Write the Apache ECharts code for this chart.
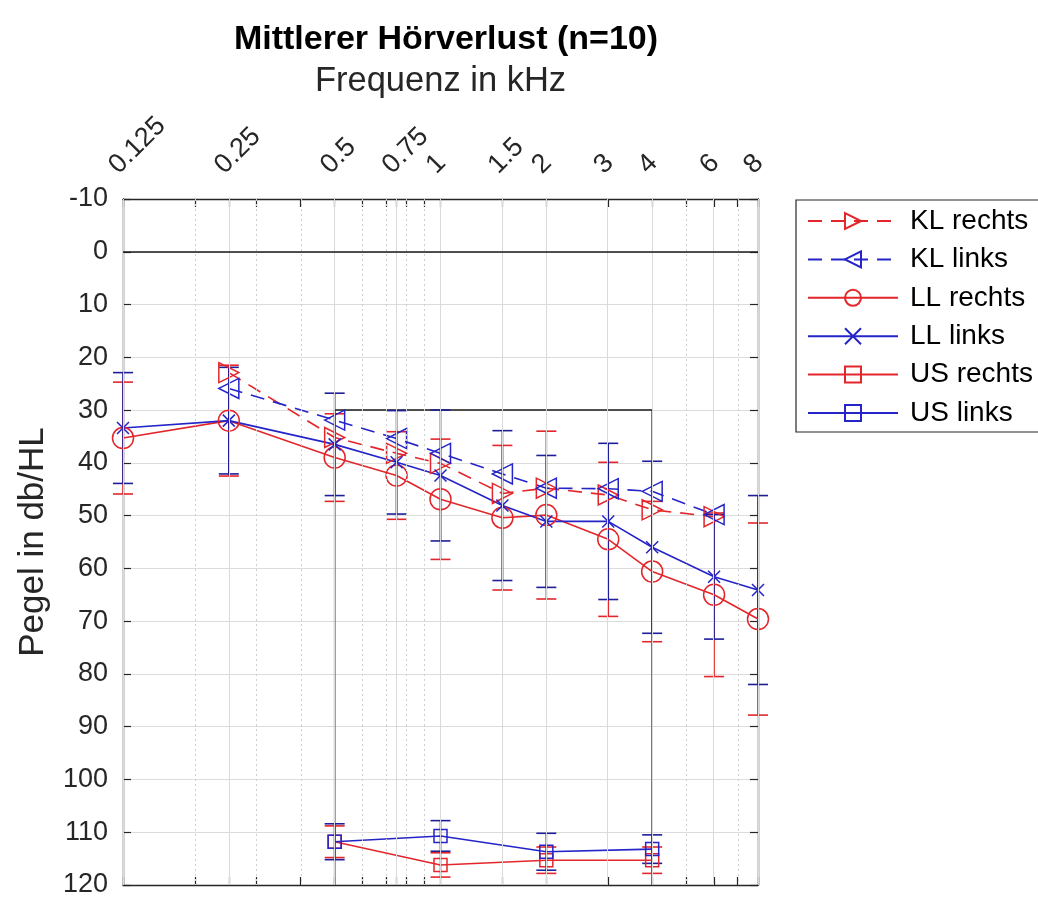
<!DOCTYPE html>
<html>
<head>
<meta charset="utf-8">
<script src="https://cdn.jsdelivr.net/npm/echarts@6/dist/echarts.min.js"></script>
<style>
html, body { margin: 0; padding: 0; background: #ffffff; }
#chart { width: 1038px; height: 900px; }
</style>
</head>
<body>
<div id="chart"></div>
<script>
// Frequency ticks (kHz) shown on the top axis
const tickFreqs = [0.125, 0.25, 0.5, 0.75, 1, 1.5, 2, 3, 4, 6, 8];
const tickLabels = ['0.125', '0.25', '0.5', '0.75', '1', '1.5', '2', '3', '4', '6', '8'];
// Minor logarithmic grid positions (kHz)
const minorFreqs = [0.2, 0.3, 0.4, 0.6, 0.7, 0.8, 0.9, 5, 7];

// Bone conduction (KL)
const klFreqs = [0.25, 0.5, 0.75, 1, 1.5, 2, 3, 4, 6];
const klRechts = [22.9, 35.2, 38.2, 40.1, 45.8, 44.8, 46.1, 48.9, 50.2];
const klLinks = [25.9, 31.9, 35.4, 38.2, 42.1, 44.8, 44.9, 45.4, 49.8];

// Air conduction (LL) with standard deviations
const llFreqs = [0.125, 0.25, 0.5, 0.75, 1, 1.5, 2, 3, 4, 6, 8];
const llRechts = [35.3, 32.0, 39.0, 42.4, 46.9, 50.4, 49.9, 54.5, 60.6, 65.0, 69.6];
const llRechtsSd = [10.6, 10.5, 8.3, 8.3, 11.4, 13.7, 15.9, 14.6, 13.3, 15.5, 18.2];
const llLinks = [33.4, 32.0, 36.5, 39.9, 42.4, 48.1, 51.1, 51.1, 56.0, 61.6, 64.1];
const llLinksSd = [10.5, 10.1, 9.7, 9.8, 12.4, 14.2, 12.5, 14.8, 16.3, 11.8, 17.9];

// Discomfort level (US) with standard deviations
const usFreqs = [0.5, 1, 2, 4];
const usRechts = [111.8, 116.2, 115.3, 115.3];
const usRechtsSd = [3.0, 2.3, 2.5, 2.5];
const usLinks = [111.8, 110.7, 113.7, 113.2];
const usLinksSd = [3.4, 2.9, 3.5, 2.7];

// Outline of the marked frequency/level region
const boxFreqs = [0.5, 0.5, 4, 4];
const boxLevels = [120, 30, 30, 120];

const RED = '#e3262b';
const BLUE = '#2424c8';
const BLUE_ERR = '#1e1e9a';
const AXIS = '#262626';
const FONT = "'Liberation Sans', Arial, Helvetica, sans-serif";
const lg = Math.log2;

function pts(freqs, vals) {
  return freqs.map((f, i) => [lg(f), vals[i]]);
}

function labelFor(v) {
  for (let i = 0; i < tickFreqs.length; i++) {
    if (Math.abs(lg(tickFreqs[i]) - v) < 1e-6) return tickLabels[i];
  }
  return '';
}

function errorBars(name, freqs, mean, sd, color) {
  return {
    type: 'custom',
    name: name,
    xAxisIndex: 0,
    yAxisIndex: 0,
    z: 4,
    silent: true,
    clip: false,
    data: freqs.map((f, i) => [lg(f), mean[i] - sd[i], mean[i] + sd[i]]),
    encode: { x: 0, y: [1, 2] },
    renderItem: function (params, api) {
      const x = api.value(0);
      const lo = api.coord([x, api.value(1)]);
      const hi = api.coord([x, api.value(2)]);
      const w = 10;
      const st = { stroke: color, lineWidth: 1.6 };
      return {
        type: 'group',
        children: [
          { type: 'line', shape: { x1: lo[0], y1: lo[1], x2: hi[0], y2: hi[1] }, style: st },
          { type: 'line', shape: { x1: lo[0] - w, y1: lo[1], x2: lo[0] + w, y2: lo[1] }, style: st },
          { type: 'line', shape: { x1: hi[0] - w, y1: hi[1], x2: hi[0] + w, y2: hi[1] }, style: st }
        ]
      };
    }
  };
}

function lineSeries(name, freqs, vals, color, symbol, size, dashed, rotate) {
  return {
    type: 'line',
    name: name,
    xAxisIndex: 0,
    yAxisIndex: 0,
    z: 4,
    data: pts(freqs, vals),
    symbol: symbol,
    symbolSize: size,
    symbolRotate: rotate || 0,
    showAllSymbol: true,
    clip: false,
    lineStyle: { color: color, width: 1.6, type: dashed ? [14, 9] : 'solid' },
    itemStyle: { color: 'rgba(255,255,255,0)', borderColor: color, borderWidth: 1.5 }
  };
}

const CROSS = 'path://M0 0L10 10M10 0L0 10';

const frameLine = { show: true, onZero: false, lineStyle: { color: AXIS, width: 1.4 } };
const inTicks = { show: true, inside: true, length: 8, lineStyle: { color: AXIS, width: 1.2 } };

const chart = echarts.init(document.getElementById('chart'), null, { renderer: 'canvas' });

const option = {
  animation: false,
  backgroundColor: '#ffffff',
  title: {
    text: 'Mittlerer Hörverlust (n=10)',
    left: 441,
    top: 18,
    textAlign: 'center',
    textStyle: { fontFamily: FONT, fontSize: 34, fontWeight: 'bold', color: '#000000' }
  },
  legend: {
    orient: 'vertical',
    left: 796,
    top: 200,
    itemWidth: 90,
    itemHeight: 20,
    itemGap: 8.4,
    padding: [6, 8, 4, 11],
    borderColor: AXIS,
    borderWidth: 1.2,
    data: ['KL rechts', 'KL links', 'LL rechts', 'LL links', 'US rechts', 'US links'],
    textStyle: { fontFamily: FONT, fontSize: 28, color: '#000000', lineHeight: 30, padding: [0, 0, 0, 7] }
  },
  grid: { left: 123, top: 199, width: 635, height: 686, containLabel: false },
  xAxis: [
    {
      type: 'value',
      position: 'top',
      min: lg(0.125),
      max: lg(8),
      name: 'Frequenz in kHz',
      nameLocation: 'middle',
      nameGap: 100,
      nameTextStyle: { fontFamily: FONT, fontSize: 34.5, color: AXIS },
      axisLine: frameLine,
      axisTick: Object.assign({}, inTicks, { customValues: tickFreqs.concat(minorFreqs).map(lg) }),
      axisLabel: {
        show: true,
        rotate: -45,
        margin: 20,
        verticalAlign: 'bottom',
        customValues: tickFreqs.map(lg),
        formatter: labelFor,
        fontFamily: FONT,
        fontSize: 27,
        color: AXIS
      },
      splitLine: { show: false }
    },
    {
      type: 'value',
      position: 'bottom',
      min: lg(0.125),
      max: lg(8),
      axisLine: frameLine,
      axisTick: Object.assign({}, inTicks, { customValues: tickFreqs.concat(minorFreqs).map(lg) }),
      axisLabel: { show: false },
      splitLine: { show: false }
    }
  ],
  yAxis: [
    {
      type: 'value',
      position: 'left',
      inverse: true,
      min: -10,
      max: 120,
      interval: 10,
      name: 'Pegel in db/HL',
      nameLocation: 'middle',
      nameGap: 72,
      nameTextStyle: { fontFamily: FONT, fontSize: 35, color: AXIS },
      axisLine: frameLine,
      axisTick: inTicks,
      axisLabel: { margin: 15, fontFamily: FONT, fontSize: 27, color: AXIS },
      splitLine: { show: true, lineStyle: { color: '#dcdcdc', width: 1 } }
    },
    {
      type: 'value',
      position: 'right',
      inverse: true,
      min: -10,
      max: 120,
      interval: 10,
      axisLine: frameLine,
      axisTick: inTicks,
      axisLabel: { show: false },
      splitLine: { show: false }
    }
  ],
  series: [
    {
      // vertical frequency grid and the 0 dB reference line
      type: 'line',
      name: 'grid',
      xAxisIndex: 0,
      yAxisIndex: 0,
      z: 1,
      silent: true,
      symbol: 'none',
      data: [[lg(0.125), -10]],
      lineStyle: { opacity: 0 },
      markLine: {
        silent: true,
        symbol: ['none', 'none'],
        label: { show: false },
        animation: false,
        data: tickFreqs.map(f => ({ xAxis: lg(f), lineStyle: { color: '#dadada', width: 1, type: 'solid' } }))
          .concat(minorFreqs.map(f => ({ xAxis: lg(f), lineStyle: { color: '#cfcfcf', width: 1, type: [2, 3] } })))
          .concat([{ yAxis: 0, lineStyle: { color: '#1a1a1a', width: 1.5, type: 'solid' } }])
      }
    },
    {
      type: 'line',
      name: 'Bereich',
      xAxisIndex: 0,
      yAxisIndex: 0,
      z: 2,
      silent: true,
      symbol: 'none',
      data: pts(boxFreqs, boxLevels),
      lineStyle: { color: '#1a1a1a', width: 1.5 }
    },
    lineSeries('KL rechts', klFreqs, klRechts, RED, 'triangle', 20, true, -90),
    lineSeries('KL links', klFreqs, klLinks, BLUE, 'triangle', 20, true, 90),
    lineSeries('LL rechts', llFreqs, llRechts, RED, 'circle', 21, false),
    errorBars('LL rechts Std', llFreqs, llRechts, llRechtsSd, RED),
    lineSeries('LL links', llFreqs, llLinks, BLUE, CROSS, 12, false),
    errorBars('LL links Std', llFreqs, llLinks, llLinksSd, BLUE_ERR),
    lineSeries('US rechts', usFreqs, usRechts, RED, 'rect', 13, false),
    errorBars('US rechts Std', usFreqs, usRechts, usRechtsSd, RED),
    lineSeries('US links', usFreqs, usLinks, BLUE, 'rect', 13, false),
    errorBars('US links Std', usFreqs, usLinks, usLinksSd, BLUE_ERR)
  ]
};

chart.setOption(option);
</script>
</body>
</html>
